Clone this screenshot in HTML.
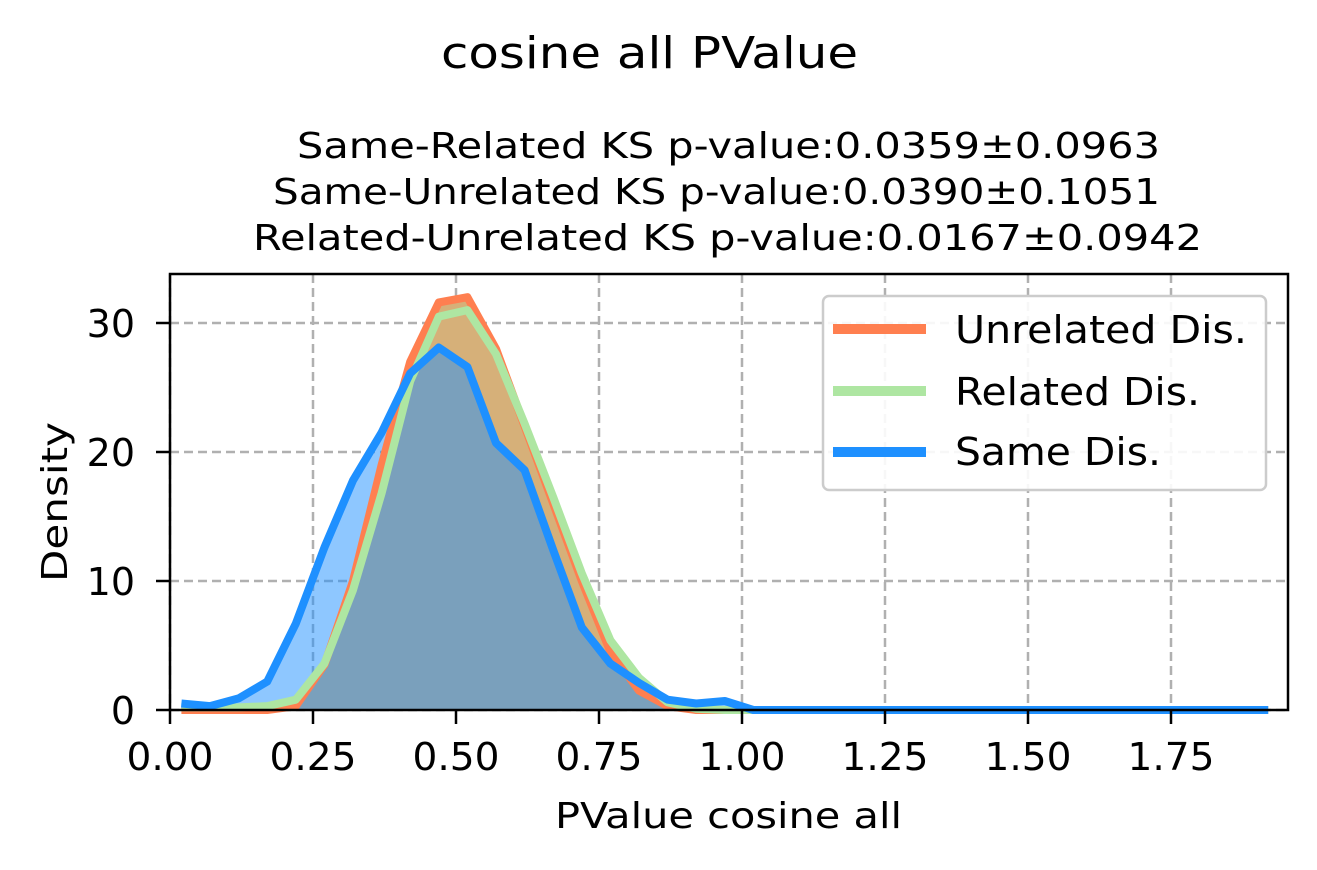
<!DOCTYPE html>
<html><head><meta charset="utf-8"><style>
body{margin:0;background:#fff;font-family:"DejaVu Sans","Liberation Sans",sans-serif}
svg text{font-family:"DejaVu Sans","Liberation Sans",sans-serif}
</style></head><body>
<svg id="c" width="1317" height="866">
<text x="441" y="68" font-size="44" textLength="417" lengthAdjust="spacingAndGlyphs">cosine all PValue</text>
<text x="297" y="158" font-size="36" textLength="863" lengthAdjust="spacingAndGlyphs">Same-Related KS p-value:0.0359±0.0963</text>
<text x="273" y="204" font-size="36" textLength="887" lengthAdjust="spacingAndGlyphs">Same-Unrelated KS p-value:0.0390±0.1051</text>
<text x="253" y="250" font-size="36" textLength="949" lengthAdjust="spacingAndGlyphs">Related-Unrelated KS p-value:0.0167±0.0942</text>
<g id="grid"></g><g id="plot"></g><g id="axes"></g>
<text x="555" y="828" font-size="36" textLength="347" lengthAdjust="spacingAndGlyphs">PValue cosine all</text>
<text transform="translate(67,582) rotate(-90)" font-size="36" textLength="160" lengthAdjust="spacingAndGlyphs">Density</text>
<g>
<rect x="823" y="296" width="443" height="194" rx="6" fill="#fff" fill-opacity="0.9" stroke="#cccccc" stroke-width="2.5"/>
<line x1="833" y1="329" x2="926" y2="329" stroke="#ff7f50" stroke-width="10"/>
<text x="955" y="343" font-size="38" textLength="292" lengthAdjust="spacingAndGlyphs">Unrelated Dis.</text>
<line x1="833" y1="391" x2="926" y2="391" stroke="#aee6a2" stroke-width="10"/>
<text x="955" y="405" font-size="38" textLength="245" lengthAdjust="spacingAndGlyphs">Related Dis.</text>
<line x1="833" y1="452" x2="926" y2="452" stroke="#1e90ff" stroke-width="10"/>
<text x="955" y="465" font-size="38" textLength="206" lengthAdjust="spacingAndGlyphs">Same Dis.</text>
</g>
</svg>
<script>
const xs=[];for(let k=0;k<39;k++)xs.push(+(0.02+0.05*k).toFixed(3));
const unrelated=[0,0,0,0,0.3,3.5,10,19,27,31.6,32,28,22,16,10,4.5,1.5,0.3,0,0,0,0,0,0,0,0,0,0,0,0,0,0,0,0,0,0,0,0,0];
const related=[0.2,0.2,0.2,0.3,0.8,3.6,9.3,16.8,25.5,30.5,31,27.6,22.2,16.5,10.6,5.4,2.5,0.6,0.1,0,0,0,0,0,0,0,0,0,0,0,0,0,0,0,0,0,0,0,0];
const same=[0.5,0.3,0.9,2.2,6.7,12.6,17.8,21.5,26.1,28.1,26.6,20.7,18.6,12.4,6.4,3.6,2.1,0.8,0.5,0.7,0,0,0,0,0,0,0,0,0,0,0,0,0,0,0,0,0,0,0];
const xTicks=[0,0.25,0.5,0.75,1.0,1.25,1.5,1.75];
const yTicks=[0,10,20,30];
const L=170,R=1288,T=274,B=710;
const X=v=>L+v*572, Y=v=>B-v*12.9;
const ns="http://www.w3.org/2000/svg";
function mk(p,t,a){const e=document.createElementNS(ns,t);for(const k in a)e.setAttribute(k,a[k]);p.appendChild(e);return e;}
const g=document.getElementById('grid'),pl=document.getElementById('plot'),ax=document.getElementById('axes');
xTicks.forEach(t=>{
 const l=mk(g,'line',{x1:X(t),x2:X(t),y1:T,y2:B,stroke:'#b0b0b0','stroke-width':2.5,'stroke-dasharray':'9,5'});
 
 
 mk(ax,'line',{x1:X(t),x2:X(t),y1:B,y2:B+14,stroke:'#000','stroke-width':2.5});
 const tx=mk(ax,'text',{x:X(t)-43.5,y:770,'font-size':38,textLength:87,lengthAdjust:'spacingAndGlyphs'});tx.textContent=t.toFixed(2);
 
 
});
yTicks.forEach(t=>{
 const l=mk(g,'line',{x1:L,x2:R,y1:Y(t),y2:Y(t),stroke:'#b0b0b0','stroke-width':2.5,'stroke-dasharray':'9,5'});
 
 
 mk(ax,'line',{x1:L-14,x2:L,y1:Y(t),y2:Y(t),stroke:'#000','stroke-width':2.5});
 const tx=mk(ax,'text',{x:135,y:Y(t)+14,'font-size':38,'text-anchor':'end'});tx.textContent=t;
 
 
});
const fills=[['unrelated',unrelated,'#d6b079',1],['related',related,'#d6b079',1],['same',same,'#1e90ff',0.5]];
fills.forEach(([n,d,f,o])=>{
 const pts=xs.map((x,i)=>X(x).toFixed(1)+','+Y(d[i]).toFixed(1));
 const a=mk(pl,'polygon',{points:X(xs[0])+','+B+' '+pts.join(' ')+' '+X(xs[xs.length-1])+','+B,fill:f,'fill-opacity':o});
 
 
});
[['unrelated',unrelated,'#ff7f50'],['related',related,'#aee6a2'],['same',same,'#1e90ff']].forEach(([n,d,c])=>{
 const pts=xs.map((x,i)=>X(x).toFixed(1)+','+Y(d[i]).toFixed(1));
 const p=mk(pl,'polyline',{points:pts.join(' '),fill:'none',stroke:c,'stroke-width':8,'stroke-linejoin':'round'});
 
 
});
const fr=mk(ax,'rect',{x:L,y:T,width:R-L,height:B-T,fill:'none',stroke:'#000','stroke-width':2.5});


</script>
</body></html>
